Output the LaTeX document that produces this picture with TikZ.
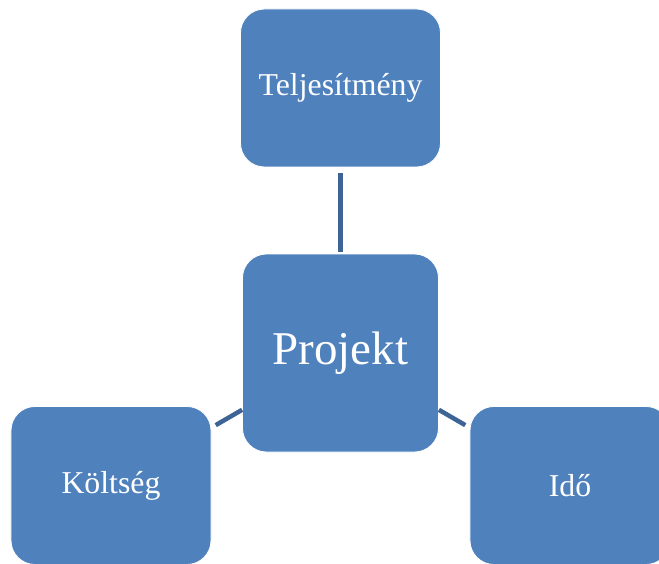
\documentclass[tikz,border=0pt]{standalone}
\usepackage{fontspec}
\setmainfont{Liberation Serif}
\usetikzlibrary{positioning}
\definecolor{boxblue}{HTML}{4F81BD}
\definecolor{linkblue}{HTML}{3E6496}

\begin{document}
\begin{tikzpicture}[x=1pt, y=1pt,
    hub/.style={rectangle, fill=boxblue, draw=white, line width=0.8pt, rounded corners=24pt, minimum width=196pt, minimum height=198pt, text=white, font=\fontsize{47}{56}\selectfont},
    leaf/.style={rectangle, fill=boxblue, draw=white, line width=0.8pt, rounded corners=24pt, minimum width=200pt, minimum height=158pt, text=white, font=\fontsize{31.8}{38}\selectfont},
    link/.style={draw=linkblue, line width=4.5pt}
  ]
    \useasboundingbox (-340.5,-210) rectangle (318.5,353);

    % Center
    \node (projekt) [hub] at (0,0) {Projekt};

    % Leaves
    \node (telj) [leaf] at (90:265) {Teljesítmény};
    \node (koltseg) [leaf] at (210:265) {Költség};
    \node (ido) [leaf] at (330:265) {Idő};

    % Connectors
    \draw[link, shorten <=2pt, shorten >=6pt] (projekt) -- (telj);
    \draw[link, shorten >=5pt] (projekt) -- (koltseg);
    \draw[link, shorten >=5pt] (projekt) -- (ido);

\end{tikzpicture}
\end{document}
